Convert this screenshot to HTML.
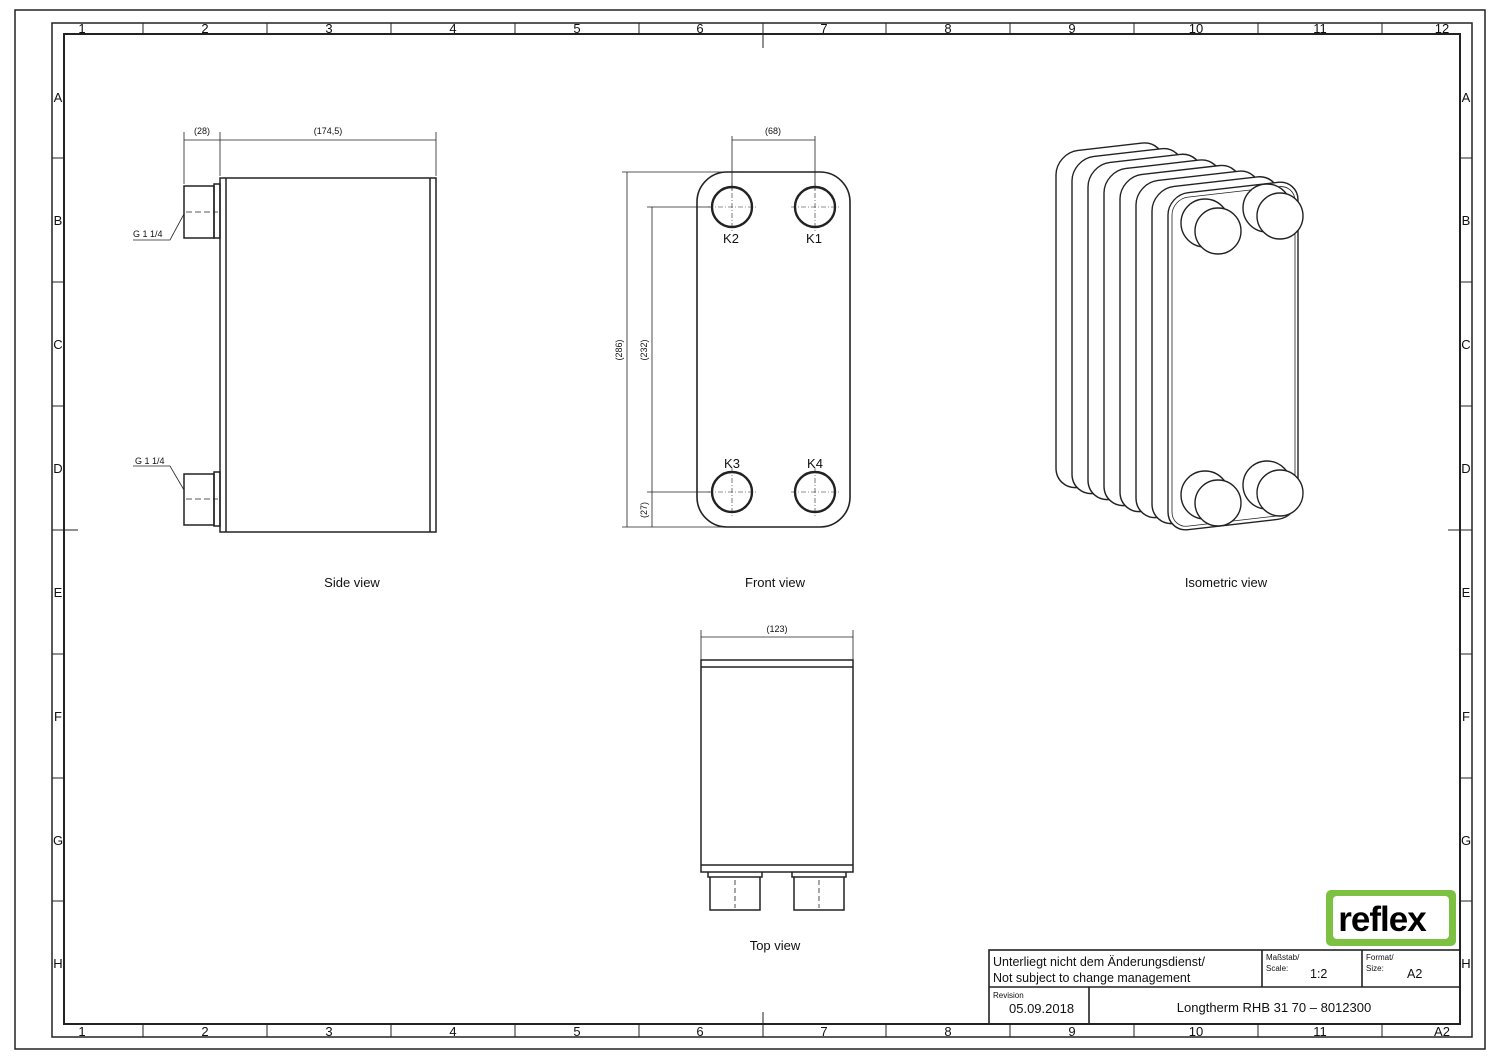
<!DOCTYPE html>
<html><head><meta charset="utf-8"><style>
html,body{margin:0;padding:0;background:#fff}
svg{display:block}
text{font-family:"Liberation Sans",sans-serif;fill:#111}
</style></head><body>
<svg width="1500" height="1060" viewBox="0 0 1500 1060" xmlns="http://www.w3.org/2000/svg">
<g fill="none" stroke="#222">
<rect x="15" y="10" width="1470" height="1039" stroke-width="1.5"/>
<rect x="52" y="23" width="1420" height="1014" stroke-width="1.5"/>
<rect x="64" y="34" width="1396" height="990" stroke-width="2"/>
<g stroke-width="1">
<path d="M143 23V34M267 23V34M391 23V34M515 23V34M639 23V34M886 23V34M1010 23V34M1134 23V34M1258 23V34M1382 23V34"/>
<path d="M143 1024V1037M267 1024V1037M391 1024V1037M515 1024V1037M639 1024V1037M886 1024V1037M1010 1024V1037M1134 1024V1037M1258 1024V1037M1382 1024V1037"/>
<path d="M52 158H64M52 282H64M52 406H64M52 654H64M52 778H64M52 901H64"/>
<path d="M1460 158H1472M1460 282H1472M1460 406H1472M1460 654H1472M1460 778H1472M1460 901H1472"/>
<path d="M763 23V48M763 1012V1037M52 530H78M1448 530H1472"/>
</g>
</g>
<g font-size="13" text-anchor="middle">
<text x="82" y="33">1</text><text x="205" y="33">2</text><text x="329" y="33">3</text><text x="453" y="33">4</text><text x="577" y="33">5</text><text x="700" y="33">6</text><text x="824" y="33">7</text><text x="948" y="33">8</text><text x="1072" y="33">9</text><text x="1196" y="33">10</text><text x="1320" y="33">11</text><text x="1442" y="33">12</text>
<text x="82" y="1036">1</text><text x="205" y="1036">2</text><text x="329" y="1036">3</text><text x="453" y="1036">4</text><text x="577" y="1036">5</text><text x="700" y="1036">6</text><text x="824" y="1036">7</text><text x="948" y="1036">8</text><text x="1072" y="1036">9</text><text x="1196" y="1036">10</text><text x="1320" y="1036">11</text><text x="1442" y="1036">A2</text>
<text x="58" y="102">A</text><text x="58" y="225">B</text><text x="58" y="349">C</text><text x="58" y="473">D</text><text x="58" y="597">E</text><text x="58" y="721">F</text><text x="58" y="845">G</text><text x="58" y="968">H</text>
<text x="1466" y="102">A</text><text x="1466" y="225">B</text><text x="1466" y="349">C</text><text x="1466" y="473">D</text><text x="1466" y="597">E</text><text x="1466" y="721">F</text><text x="1466" y="845">G</text><text x="1466" y="968">H</text>
</g>

<!-- Side view -->
<g fill="none" stroke="#222" stroke-width="1.5">
<rect x="220" y="178" width="216" height="354"/>
<path d="M226 178V532M430 178V532"/>
<rect x="214" y="184" width="6" height="54"/>
<rect x="184" y="186" width="30" height="52"/>
<rect x="214" y="472" width="6" height="54"/>
<rect x="184" y="474" width="30" height="51"/>
<g stroke-width="0.8">
<path d="M184 132V184M220 132V176M436 132V176"/>
<path d="M184 140H220M220 140H436"/>
<path d="M133 240H170L184 214M133 466H170L184 490"/>
<path d="M186 212H218M186 499H218" stroke-dasharray="6 3"/>
</g>
</g>
<g font-size="9" text-anchor="middle">
<text x="202" y="134">(28)</text><text x="328" y="134">(174,5)</text>
</g>
<text x="133" y="237" font-size="9">G 1 1/4</text>
<text x="135" y="464" font-size="9">G 1 1/4</text>
<text x="352" y="587" font-size="13" text-anchor="middle">Side  view</text>

<!-- Front view -->
<g fill="none" stroke="#222">
<rect x="697" y="172" width="153" height="355" rx="30" stroke-width="1.6"/>
<g stroke-width="2.4">
<circle cx="732" cy="207" r="20"/><circle cx="815" cy="207" r="20"/>
<circle cx="732" cy="492" r="20"/><circle cx="815" cy="492" r="20"/>
</g>
<g stroke-width="0.6" stroke-dasharray="5 2 1 2">
<path d="M708 207H756M791 207H839M708 492H756M791 492H839M732 183V231M815 183V231M732 468V516M815 468V516"/>
</g>
<g stroke-width="0.8">
<path d="M732 136V190M815 136V190M732 140H815"/>
<path d="M622 172H740M622 527H740M647 207H710M647 492H710"/>
<path d="M627 172V527M652 207V492M652 492V527"/>
</g>
</g>
<g font-size="9" text-anchor="middle">
<text x="773" y="134">(68)</text>
<text transform="translate(622,350) rotate(-90)">(286)</text>
<text transform="translate(647,350) rotate(-90)">(232)</text>
<text transform="translate(647,510) rotate(-90)">(27)</text>
</g>
<g font-size="13" text-anchor="middle">
<text x="731" y="243">K2</text><text x="814" y="243">K1</text>
<text x="732" y="468">K3</text><text x="815" y="468">K4</text>
<text x="775" y="587">Front  view</text>
</g>

<!-- Top view -->
<g fill="none" stroke="#222" stroke-width="1.5">
<rect x="701" y="660" width="152" height="212"/>
<path d="M701 667H853M701 865H853"/>
<path d="M708 872V877H762V872M710 877V910H760V877"/>
<path d="M792 872V877H846V872M794 877V910H844V877"/>
<g stroke-width="0.8"><path d="M701 630V660M853 630V660M701 637H853"/>
<path d="M735 880V908M819 880V908" stroke-dasharray="5 3"/></g>
</g>
<text x="777" y="632" font-size="9" text-anchor="middle">(123)</text>
<text x="775" y="950" font-size="13" text-anchor="middle">Top  view</text>

<!-- Isometric -->
<g stroke="#222" stroke-width="1.4" fill="#fff">
<rect x="0" y="0" width="108" height="337" rx="22" transform="matrix(1,-0.115,0,1,1056,153)"/>
<rect x="0" y="0" width="111" height="337" rx="22" transform="matrix(1,-0.115,0,1,1072,159)"/>
<rect x="0" y="0" width="114" height="337" rx="22" transform="matrix(1,-0.115,0,1,1088,165)"/>
<rect x="0" y="0" width="117" height="337" rx="22" transform="matrix(1,-0.115,0,1,1104,171)"/>
<rect x="0" y="0" width="121" height="337" rx="22" transform="matrix(1,-0.115,0,1,1120,177)"/>
<rect x="0" y="0" width="124" height="337" rx="22" transform="matrix(1,-0.115,0,1,1136,183)"/>
<rect x="0" y="0" width="127" height="337" rx="22" transform="matrix(1,-0.115,0,1,1152,189)"/>
<rect x="0" y="0" width="130" height="337" rx="20" transform="matrix(1,-0.115,0,1,1168,195)"/>
<rect x="0" y="0" width="123" height="329" rx="16" transform="matrix(1,-0.115,0,1,1172,199)" stroke-width="0.8"/>
<g>
<circle cx="1205" cy="223" r="24"/><path d="M1190 204L1203 213L1226 236L1212 247Z" stroke="none"/><circle cx="1218" cy="231" r="23"/>
<circle cx="1267" cy="208" r="24"/><path d="M1252 189L1265 198L1288 221L1274 232Z" stroke="none"/><circle cx="1280" cy="216" r="23"/>
<circle cx="1205" cy="495" r="24"/><path d="M1190 476L1203 485L1226 508L1212 519Z" stroke="none"/><circle cx="1218" cy="503" r="23"/>
<circle cx="1267" cy="485" r="24"/><path d="M1252 466L1265 475L1288 498L1274 509Z" stroke="none"/><circle cx="1280" cy="493" r="23"/>
</g>
</g>
<text x="1226" y="587" font-size="13" text-anchor="middle">Isometric  view</text>

<!-- Logo -->
<rect x="1326" y="890" width="130" height="56" rx="5" fill="#7cc142"/>
<rect x="1333" y="896" width="116" height="43" rx="4" fill="#fff"/>
<text x="1382" y="931" font-size="35" font-weight="bold" text-anchor="middle" letter-spacing="-1" style="fill:#000">reflex</text>

<!-- Title block -->
<g fill="none" stroke="#222" stroke-width="1.6">
<rect x="989" y="950" width="471" height="74"/>
<path d="M989 987H1460M1262 950V987M1362 950V987M1089 987V1024"/>
</g>
<text x="993" y="966" font-size="12.5">Unterliegt  nicht  dem  Änderungsdienst/</text>
<text x="993" y="982" font-size="12.5">Not  subject  to  change  management</text>
<text x="1266" y="960" font-size="8">Maßstab/</text>
<text x="1266" y="971" font-size="8">Scale:</text>
<text x="1310" y="978" font-size="12.5">1:2</text>
<text x="1366" y="960" font-size="8">Format/</text>
<text x="1366" y="971" font-size="8">Size:</text>
<text x="1407" y="978" font-size="12.5">A2</text>
<text x="993" y="998" font-size="8">Revision</text>
<text x="1009" y="1013" font-size="13">05.09.2018</text>
<text x="1274" y="1012" font-size="13" text-anchor="middle">Longtherm  RHB  31  70  –  8012300</text>
</svg>
</body></html>
